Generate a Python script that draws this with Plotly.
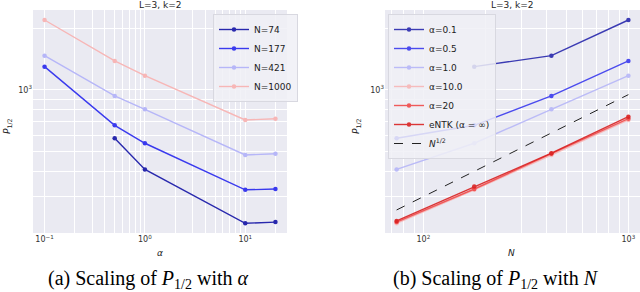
import plotly.graph_objects as go
import numpy as np

# ---------------- data ----------------
alphas = [0.1, 0.5, 1.0, 10.0, 20.0]
N_values = [74, 177, 421, 1000]
# P_{1/2} indexed by N (rows) and alpha (cols); None = missing
P_by_N = {
    "N=74":   [None, 580, 408, 222, 225],
    "N=177":  [1301, 671, 548, 324, 327],
    "N=421":  [1473, 935, 804, 480, 487],
    "N=1000": [2203, 1388, 1175, 713, 723],
}
# right panel: P_{1/2} vs N for each alpha
P_by_alpha = {
    "α=0.1":  [None, 1301, 1473, 2203],
    "α=0.5":  [580, 671, 935, 1388],
    "α=1.0":  [408, 548, 804, 1175],
    "α=10.0": [222, 324, 480, 713],
    "α=20":   [225, 327, 487, 723],
    "eNTK (α = ∞)": [228, 336, 490, 740],
}
sqrt_coef = 30.0
left_title = "L=3, k=2"
right_title = "L=3, k=2"

colors_N = ["#2828ad", "#3a3aee", "#b6b6f8", "#f7b6b6"]
colors_a = ["#2828ad", "#3a3aee", "#b6b6f8", "#f7b6b6", "#f04a4a", "#d92222"]

W, H = 640, 292
BG = "#eaeaf2"

def px(x):
    return x / W

def py(y):
    return 1 - y / H

fig = go.Figure()

for (name, vals), c in zip(P_by_N.items(), colors_N):
    fig.add_trace(go.Scatter(
        x=alphas, y=vals, mode="lines+markers", name=name,
        line=dict(color=c, width=1.4), marker=dict(color=c, size=4.5),
        connectgaps=False, xaxis="x", yaxis="y", legend="legend"))

for (name, vals), c in zip(P_by_alpha.items(), colors_a):
    fig.add_trace(go.Scatter(
        x=N_values, y=vals, mode="lines+markers", name=name,
        line=dict(color=c, width=1.4), marker=dict(color=c, size=4.5),
        opacity=0.9, xaxis="x2", yaxis="y2", legend="legend2"))

fig.add_trace(go.Scatter(
    x=N_values, y=[sqrt_coef * np.sqrt(n) for n in N_values], mode="lines",
    name="<i>N</i><sup>1/2</sup>", line=dict(color="#222222", width=1, dash="dash"),
    xaxis="x2", yaxis="y2", legend="legend2"))

tickfont = dict(family="DejaVu Sans", size=8, color="#333333")
ymajor = [100, 1000, 10000]
yminor = [v * m for v in [100, 1000] for m in range(2, 10)]
ytext = ["", "10<sup>3</sup>", ""]

common_y = dict(type="log", range=[np.log10(199), np.log10(2466)],
                tickvals=ymajor, ticktext=ytext, showgrid=True, gridcolor="white",
                gridwidth=1, zeroline=False, showline=False, ticks="",
                tickfont=tickfont, automargin=False,
                minor=dict(tickvals=yminor, showgrid=True, gridcolor="white",
                           gridwidth=0.5, ticks=""))

fig.update_layout(
    template="none",
    width=W, height=H, margin=dict(l=0, r=0, t=0, b=0, pad=0, autoexpand=False),
    paper_bgcolor="white", plot_bgcolor=BG,
    font=dict(family="DejaVu Sans", size=9, color="#222222"),
    xaxis=dict(type="log", domain=[px(33), px(287)],
               range=[np.log10(0.1) - 0.115, np.log10(20) + 0.115],
               tickvals=[0.1, 1, 10], ticktext=["10<sup>−1</sup>", "10<sup>0</sup>", "10<sup>1</sup>"],
               showgrid=True, gridcolor="white", gridwidth=1, zeroline=False, showline=False,
               ticks="", tickfont=tickfont, anchor="y", automargin=False,
               minor=dict(tickvals=[v * m for v in [0.1, 1, 10] for m in range(2, 10)],
                          showgrid=True, gridcolor="white", gridwidth=0.5, ticks="")),
    yaxis=dict(domain=[py(233), py(10)], anchor="x", **common_y),
    xaxis2=dict(type="log", domain=[px(385), 1.0],
                range=[np.log10(74) - 0.0566, 3 + 0.0566],
                tickvals=[100, 1000], ticktext=["10<sup>2</sup>", "10<sup>3</sup>"],
                showgrid=True, gridcolor="white", gridwidth=1, zeroline=False, showline=False,
                ticks="", tickfont=tickfont, anchor="y2", automargin=False,
                minor=dict(tickvals=[v * m for v in [10, 100, 1000] for m in range(2, 10)],
                           showgrid=True, gridcolor="white", gridwidth=0.5, ticks="")),
    yaxis2=dict(domain=[py(233), py(10)], anchor="x2", **common_y),
    legend=dict(x=px(213), y=py(14), xanchor="left", yanchor="top",
                bgcolor="rgba(240,240,246,0.85)", bordercolor="#d8d8e0", borderwidth=1,
                font=dict(size=9), tracegroupgap=0, itemwidth=30),
    legend2=dict(x=px(388), y=py(14), xanchor="left", yanchor="top",
                 bgcolor="rgba(240,240,246,0.85)", bordercolor="#d8d8e0", borderwidth=1,
                 font=dict(size=9), tracegroupgap=0, itemwidth=30),
    showlegend=True,
)

def note(text, x, y, size=9, family=None, color="#222222", angle=0):
    f = dict(size=size, color=color)
    if family:
        f["family"] = family
    return dict(text=text, x=px(x), y=py(y), xref="paper", yref="paper",
                showarrow=False, font=f, xanchor="center", yanchor="middle",
                textangle=angle)

ann = [
    note(left_title, 160, 5),
    note(right_title, 511.5, 5),
    note("<i>α</i>", 160, 253),
    note("<i>N</i>", 511.5, 253),
    note("<i>P</i><sub>1/2</sub>", 8, 126, angle=-90),
    note("<i>P</i><sub>1/2</sub>", 357, 126, angle=-90),
    note("(a) Scaling of <i>P</i><sub>1/2</sub> with <i>α</i>", 148, 279,
         size=20, family="Liberation Serif", color="black"),
    note("(b) Scaling of <i>P</i><sub>1/2</sub> with <i>N</i>", 496, 279,
         size=20, family="Liberation Serif", color="black"),
]
fig.update_layout(annotations=ann)

fig.write_html("out.html", config={"displayModeBar": False},
               post_script="document.body.style.margin='0px';")
